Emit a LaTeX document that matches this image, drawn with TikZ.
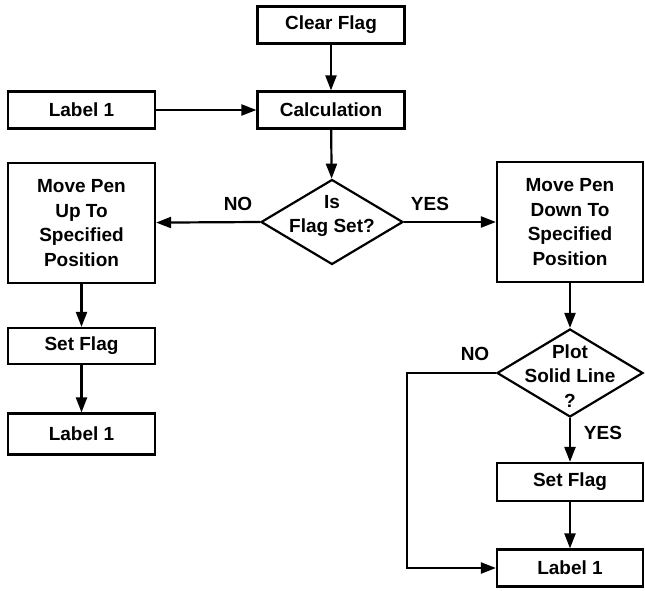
\documentclass[tikz,border=0pt]{standalone}
\usepackage{fontspec}
\setmainfont{Liberation Sans}
\usetikzlibrary{shapes.geometric,arrows.meta}
\begin{document}
\begin{tikzpicture}[x=1pt,y=-1pt,
  every node/.style={font=\bfseries\fontsize{19}{24.5}\selectfont},
  box/.style={draw, line width=2.2pt, minimum width=147pt, minimum height=37pt, inner sep=0pt, align=center},
  tall/.style={box, minimum height=120pt},
  dia/.style={draw, diamond, line width=2.2pt, inner sep=0pt},
  txt/.style={align=center, inner sep=0pt},
  arr/.style={line width=2.2pt, -{Triangle[length=15pt,width=11pt]}},
  ln/.style={line width=2.2pt}
]
\useasboundingbox (0,0) rectangle (645,590);
\node[box] (clear) at (331,25) {Clear Flag};
\node[box] (calc) at (331,110) {Calculation};
\node[box] (lab1) at (81.5,110) {Label 1};
\node[dia, minimum width=142pt, minimum height=85pt] (d1) at (332,222) {};
\node[txt] (d1t) at (332,216) {Is\\Flag Set?};
\node[tall] (up) at (81.5,223) {Move Pen\\Up To\\Specified\\Position};
\node[tall, minimum width=146pt] (down) at (570,222) {Move Pen\\Down To\\Specified\\Position};
\node[box, minimum height=36pt] (setL) at (81.5,346) {Set Flag};
\node[box, minimum height=41pt] (labL) at (81.5,434) {Label 1};
\node[dia, minimum width=146pt, minimum height=88pt] (d2) at (570,373) {};
\node[txt] (d2t) at (570,376) {Plot\\Solid Line\\?};
\node[box, minimum width=146pt, minimum height=38pt] (setR) at (570,482) {Set Flag};
\node[box, minimum width=146pt, minimum height=37pt] (labR) at (570,568) {Label 1};
\coordinate (c1) at (407,373);
\coordinate (c2) at (407,568);

\draw[arr] (clear) -- (calc);
\draw[arr] (lab1) -- (calc);
\draw[arr] (calc) -- (d1);
\draw[arr] (d1.west) -- (up);
\draw[arr] (d1.east) -- (down.west |- d1.east);
\draw[arr] (up) -- (setL);
\draw[arr] (setL) -- (labL);
\draw[arr] (down) -- (d2);
\draw[arr] (d2) -- (setR);
\draw[arr] (setR) -- (labR);
\draw[arr] (d2.west) -- (c1) -- (c2) -- (labR.west);

\node (no1) at (238,204) {NO};
\node (yes1) at (430,204) {YES};
\node (no2) at (475,354) {NO};
\node (yes2) at (603,433) {YES};
\end{tikzpicture}
\end{document}
